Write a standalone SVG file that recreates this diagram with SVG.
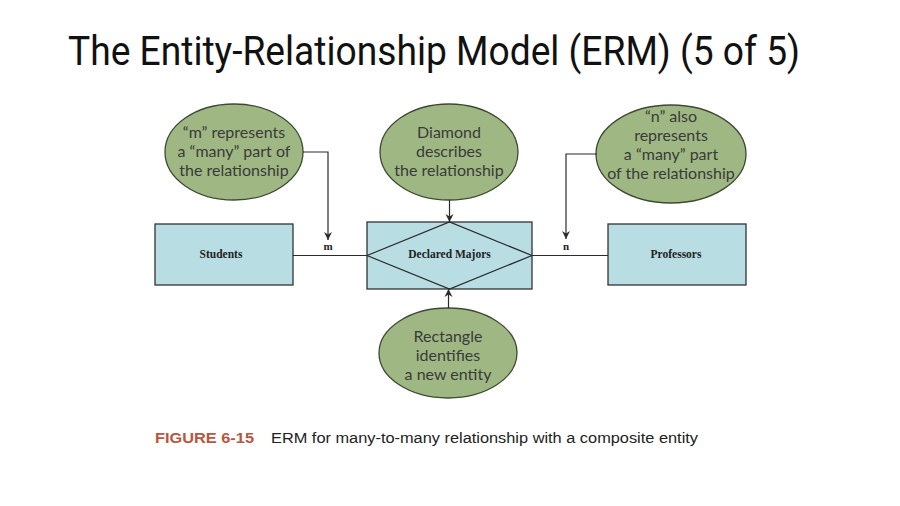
<svg xmlns="http://www.w3.org/2000/svg" width="900" height="506" viewBox="0 0 900 506">
  <defs>
    <marker id="arrow" viewBox="0 0 10 10" refX="10" refY="5" markerWidth="8" markerHeight="9" markerUnits="userSpaceOnUse" orient="auto">
      <path d="M0,0 L10,5 L0,10 L3,5 Z" fill="#2b2b2b"/>
    </marker>
    <style>
      .title { font-family: "Roboto", "Liberation Sans", sans-serif; font-size: 40px; fill: #111; }
      .note { fill: #9fb883; stroke: #3c4a33; stroke-width: 1.3; }
      .note-text { font-family: "Lato", "Open Sans", sans-serif; font-size: 16px; fill: #3a3a3a; text-anchor: middle; }
      .entity { fill: #b8dde3; stroke: #333; stroke-width: 1.3; }
      .entity-text { font-family: "Liberation Serif", serif; font-weight: bold; font-size: 11.5px; fill: #222; text-anchor: middle; }
      .conn { fill: none; stroke: #2b2b2b; stroke-width: 1.2; }
      .card { font-family: "Liberation Serif", serif; font-weight: bold; font-size: 11px; fill: #222; text-anchor: middle; }
      .fig { font-family: "Liberation Sans", Arial, sans-serif; font-weight: bold; font-size: 15.5px; fill: #b5583f; }
      .caption { font-family: "Liberation Sans", Arial, sans-serif; font-size: 15.5px; fill: #222; }
    </style>
  </defs>

  <rect width="900" height="506" fill="#ffffff"/>

  <text class="title" x="68" y="65" textLength="732" lengthAdjust="spacingAndGlyphs">The Entity-Relationship Model (ERM) (5 of 5)</text>

  <!-- entities -->
  <g id="students">
    <rect class="entity" x="155" y="224" width="138" height="61"/>
    <text class="entity-text" x="221" y="258">Students</text>
  </g>
  <g id="declared-majors">
    <rect class="entity" x="367" y="222" width="165" height="67"/>
    <polygon class="conn" points="367,255.5 449.5,222 532,255.5 449.5,289"/>
    <text class="entity-text" x="449.5" y="258">Declared Majors</text>
  </g>
  <g id="professors">
    <rect class="entity" x="608" y="224" width="138" height="61"/>
    <text class="entity-text" x="676" y="258">Professors</text>
  </g>

  <!-- callout notes -->
  <g id="note-m">
    <ellipse class="note" cx="234" cy="152" rx="69" ry="48"/>
    <text class="note-text" x="234" y="138">“m” represents</text>
    <text class="note-text" x="234" y="157">a “many” part of</text>
    <text class="note-text" x="234" y="176">the relationship</text>
  </g>
  <g id="note-diamond">
    <ellipse class="note" cx="449" cy="152" rx="69" ry="48"/>
    <text class="note-text" x="449" y="138">Diamond</text>
    <text class="note-text" x="449" y="157">describes</text>
    <text class="note-text" x="449" y="176">the relationship</text>
  </g>
  <g id="note-n">
    <ellipse class="note" cx="671" cy="154" rx="75" ry="49"/>
    <text class="note-text" x="671" y="122">“n” also</text>
    <text class="note-text" x="671" y="141">represents</text>
    <text class="note-text" x="671" y="160">a “many” part</text>
    <text class="note-text" x="671" y="179">of the relationship</text>
  </g>
  <g id="note-rectangle">
    <ellipse class="note" cx="448" cy="353" rx="69" ry="45"/>
    <text class="note-text" x="448" y="342">Rectangle</text>
    <text class="note-text" x="448" y="361">identifies</text>
    <text class="note-text" x="448" y="380">a new entity</text>
  </g>

  <!-- connectors -->
  <g id="connectors">
    <line class="conn" x1="293" y1="255.5" x2="367" y2="255.5"/>
    <line class="conn" x1="532" y1="255.5" x2="608" y2="255.5"/>
    <polyline class="conn" points="303,152 328,152 328,240" marker-end="url(#arrow)"/>
    <polyline class="conn" points="597,154 566,154 566,239" marker-end="url(#arrow)"/>
    <line class="conn" x1="449.5" y1="200" x2="449.5" y2="222" marker-end="url(#arrow)"/>
    <line class="conn" x1="448.5" y1="308" x2="448.5" y2="289" marker-end="url(#arrow)"/>
    <text class="card" x="328" y="250">m</text>
    <text class="card" x="566" y="250">n</text>
  </g>

  <!-- caption -->
  <text class="fig" x="155" y="443" textLength="99" lengthAdjust="spacingAndGlyphs">FIGURE 6-15</text>
  <text class="caption" x="271" y="443" textLength="427" lengthAdjust="spacingAndGlyphs">ERM for many-to-many relationship with a composite entity</text>
</svg>
